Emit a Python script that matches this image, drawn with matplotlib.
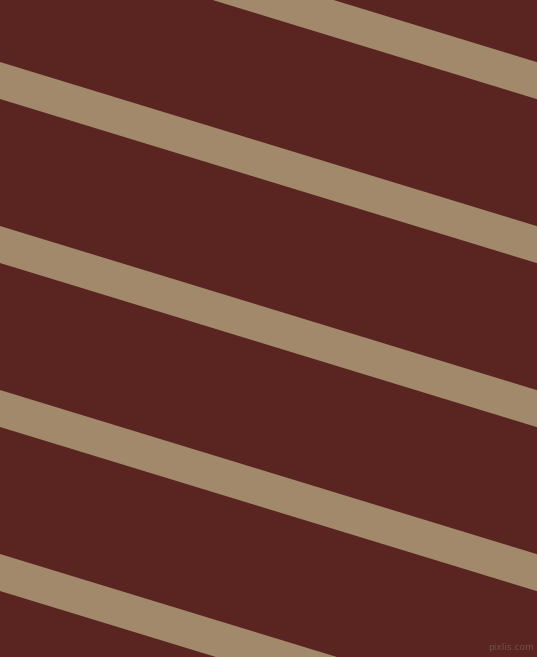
import numpy as np
import matplotlib
matplotlib.use('Agg')
import matplotlib.pyplot as plt

# stripe geometry (pixels, y grows downward)
stripe_bottom_at_left = [-65, 99, 263, 427, 591]
stripe_thickness = 37
stripe_slope = 0.3057

background_color = '#5a2520'
stripe_color = '#a2896b'

width, height = 537, 657

fig = plt.figure(figsize=(width / 100, height / 100), dpi=100)
ax = fig.add_axes([0, 0, 1, 1])
ax.set_facecolor(background_color)
fig.patch.set_facecolor(background_color)

x = np.array([0, width])
for b in stripe_bottom_at_left:
    lower = b + stripe_slope * x
    upper = lower - stripe_thickness
    ax.fill_between(x, upper, lower, color=stripe_color, linewidth=0)

ax.text(534, 652, 'pixlis.com', color='#74504a', fontsize=6.5,
        ha='right', va='bottom', family='DejaVu Sans')

ax.set_xlim(0, width)
ax.set_ylim(height, 0)
ax.axis('off')

fig.savefig('out.png', dpi=100, facecolor=background_color)
